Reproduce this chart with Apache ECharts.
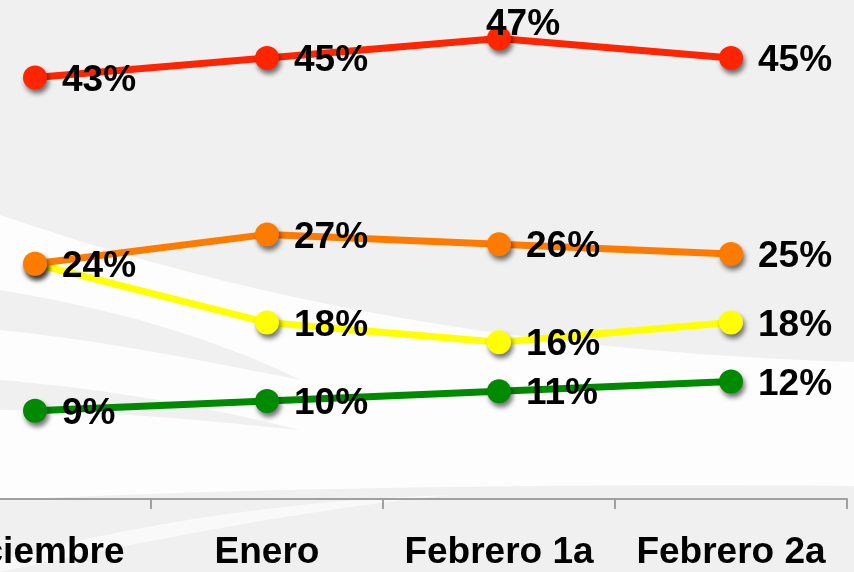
<!DOCTYPE html>
<html>
<head>
<meta charset="utf-8">
<script src="https://cdn.jsdelivr.net/npm/echarts@6/dist/echarts.min.js"></script>
<style>
html,body{margin:0;padding:0;}
#wrap{
  position:relative;width:854px;height:572px;overflow:hidden;
  background-color:#f0f0f0;
  background-image:url("data:image/svg+xml;utf8,<svg xmlns='http://www.w3.org/2000/svg' width='854' height='572'><path d='M0,215 C220,290 480,350 854,362 L854,486 C600,484 300,486 0,500 Z' fill='white' fill-opacity='0.85'/><path d='M0,290 C120,310 220,340 300,380 C200,360 100,340 0,330 Z' fill='rgb(228,228,228)' fill-opacity='0.5'/><path d='M0,380 C120,390 220,410 300,430 C200,420 100,410 0,410 Z' fill='rgb(228,228,228)' fill-opacity='0.5'/><path d='M0,560 C150,520 300,500 450,495 C300,510 150,540 0,572 Z' fill='white' fill-opacity='0.6'/></svg>");
  background-repeat:no-repeat;
}
#chart{position:absolute;left:-81px;top:0;width:935px;height:572px;}
</style>
</head>
<body>
<div id="wrap"><div id="chart"></div></div>
<script>
var categories = ['Diciembre', 'Enero', 'Febrero 1a', 'Febrero 2a'];
var redValues = [43, 45, 47, 45];
var orangeValues = [24, 27, 26, 25];
var yellowValues = [24, 18, 16, 18];
var greenValues = [9, 10, 11, 12];

var labelFont = {
  color: '#000',
  fontFamily: 'Liberation Sans, Arial, sans-serif',
  fontWeight: 'bold',
  fontSize: 37
};

function makeSeries(name, values, color, z, labelOverrides) {
  return {
    name: name,
    type: 'line',
    data: values.map(function (v, i) {
      var item = { value: v };
      if (labelOverrides && labelOverrides[i]) item.label = labelOverrides[i];
      return item;
    }),
    z: z,
    symbol: 'circle',
    symbolSize: 24,
    lineStyle: { color: color, width: 7 },
    itemStyle: {
      color: color,
      shadowColor: 'rgba(0,0,0,0.55)',
      shadowBlur: 5,
      shadowOffsetX: 2,
      shadowOffsetY: 4
    },
    label: Object.assign({
      show: true,
      position: 'right',
      distance: 15,
      offset: [0, 3],
      formatter: '{c}%'
    }, labelFont),
    emphasis: { disabled: true },
    animation: false
  };
}

var chart = echarts.init(document.getElementById('chart'));
chart.setOption({
  backgroundColor: 'transparent',
  animation: false,
  grid: { left: 0, right: 7, top: 9, bottom: 73, containLabel: false },
  xAxis: {
    type: 'category',
    data: categories,
    boundaryGap: true,
    axisLine: { show: true, lineStyle: { color: '#a0a0a0', width: 2 } },
    axisTick: { show: true, length: 10, lineStyle: { color: '#a0a0a0', width: 2 } },
    axisLabel: {
      margin: 35,
      color: '#000',
      fontFamily: 'Liberation Sans, Arial, sans-serif',
      fontWeight: 'bold',
      fontSize: 37,
      interval: 0
    },
    splitLine: { show: false }
  },
  yAxis: {
    type: 'value',
    min: 0,
    max: 50,
    show: false,
    splitLine: { show: false }
  },
  series: [
    makeSeries('Verde', greenValues, '#008a00', 2),
    makeSeries('Amarillo', yellowValues, '#ffff00', 3, { 0: { show: false } }),
    makeSeries('Naranja', orangeValues, '#ff7b00', 4),
    makeSeries('Rojo', redValues, '#ff2500', 5, { 2: { position: 'inside', offset: [24, -14] } })
  ]
});
</script>
</body>
</html>
